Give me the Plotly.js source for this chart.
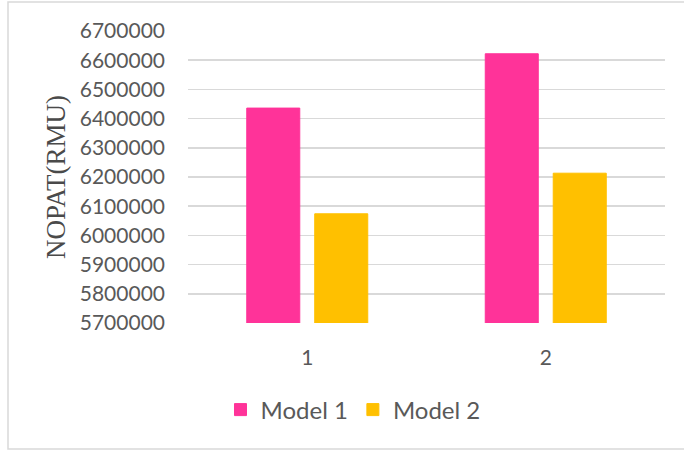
<!DOCTYPE html>
<html>
<head>
<meta charset="utf-8">
<script src="https://cdn.plot.ly/plotly-3.0.1.min.js"></script>
<style>
  html, body { margin: 0; padding: 0; background: #ffffff; }
  #chart { width: 684px; height: 450px; }
</style>
</head>
<body>
<div id="chart"></div>
<script>
// Categories on the x axis
const categories = ['1', '2'];

// NOPAT values (RMU) for each model
const model1Values = [6436000, 6622000];
const model2Values = [6074000, 6213000];

const seriesNames = ['Model 1', 'Model 2'];
const seriesColors = ['#FF3399', '#FFC000'];

// Y axis ticks
const yTickValues = [5700000, 5800000, 5900000, 6000000, 6100000, 6200000, 6300000, 6400000, 6500000, 6600000, 6700000];
const yTickLabels = ['5700000', '5800000', '5900000', '6000000', '6100000', '6200000', '6300000', '6400000', '6500000', '6600000', '6700000'];

const W = 684, H = 450;
const margin = { l: 188, r: 19, t: 31, b: 127 };
const plotW = W - margin.l - margin.r;
const plotH = H - margin.t - margin.b;

// helpers: container pixels -> paper fractions
const px = v => (v - margin.l) / plotW;
const py = v => (H - margin.b - v) / plotH;

const tickFont = { family: 'Lato, "Open Sans", sans-serif', size: 21, color: '#595959' };

const traces = [model1Values, model2Values].map((vals, i) => ({
  type: 'bar',
  name: seriesNames[i],
  x: categories,
  y: vals,
  base: 0,
  marker: { color: seriesColors[i], line: { color: seriesColors[i], width: 1 } },
  hoverinfo: 'x+y+name'
}));

const layout = {
  width: W,
  height: H,
  margin: margin,
  paper_bgcolor: '#ffffff',
  plot_bgcolor: '#ffffff',
  barmode: 'group',
  bargap: 0.43,
  bargroupgap: 0.22,
  xaxis: {
    type: 'category',
    showgrid: false,
    showline: false,
    zeroline: false,
    ticks: '',
    ticklabelstandoff: 20,
    tickfont: tickFont
  },
  yaxis: {
    range: [5700000, 6700000],
    tickvals: yTickValues,
    ticktext: yTickLabels,
    showgrid: true,
    gridcolor: '#d9d9d9',
    gridwidth: 1.5,
    zeroline: false,
    showline: false,
    ticks: '',
    ticklabelstandoff: 22,
    tickfont: tickFont,
    automargin: true,
    title: {
      text: 'NOPAT(RMU)',
      standoff: 6,
      font: { family: '"Liberation Serif", "Times New Roman", serif', size: 27, color: '#4a4a4a' }
    }
  },
  showlegend: true,
  legend: {
    orientation: 'h',
    xref: 'container',
    yref: 'container',
    x: 353 / W,
    xanchor: 'center',
    y: 1 - 410 / H,
    yanchor: 'middle',
    font: { family: 'Lato, "Open Sans", sans-serif', size: 24, color: '#595959' },
    bgcolor: 'rgba(0,0,0,0)'
  },
  shapes: [{
    type: 'rect',
    xref: 'paper',
    yref: 'paper',
    x0: px(8), x1: px(W + 6),
    y0: py(449), y1: py(2),
    line: { color: '#d9d9d9', width: 1.5 },
    fillcolor: 'rgba(0,0,0,0)',
    layer: 'below'
  }]
};

Plotly.newPlot('chart', traces, layout, { displayModeBar: false, staticPlot: true });
</script>
</body>
</html>
